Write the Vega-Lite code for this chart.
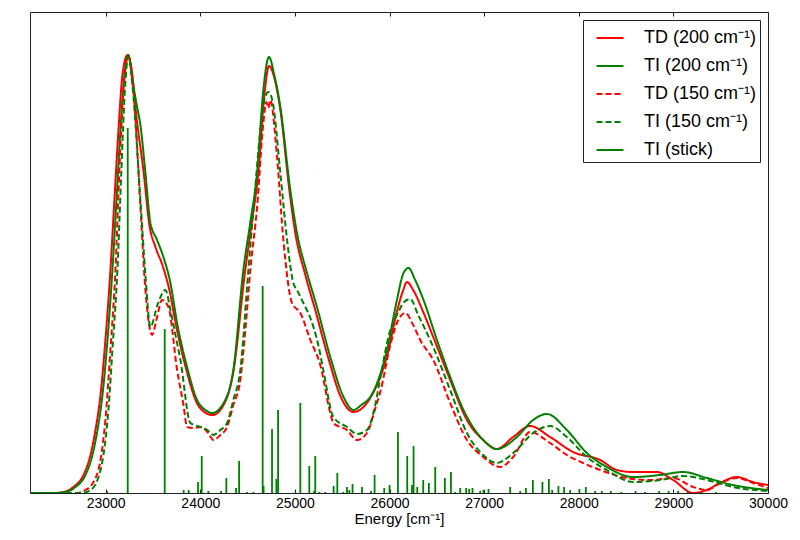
{
  "$schema": "https://vega.github.io/schema/vega-lite/v6.json",
  "width": 738,
  "height": 481,
  "autosize": {"type": "none"},
  "padding": {"left": 30, "top": 12, "right": 32, "bottom": 47},
  "background": "white",
  "config": {
    "view": {"stroke": "#222", "strokeWidth": 1},
    "font": "Liberation Sans",
    "axis": {"grid": false, "labelFont": "Liberation Sans", "titleFont": "Liberation Sans", "labelColor": "black", "titleColor": "black", "titleFontWeight": "normal"},
    "legend": {
      "orient": "top-right", "offset": 8, "strokeColor": "#222", "fillColor": "white",
      "padding": 3, "symbolOffset": 9, "symbolType": "stroke", "symbolSize": 730, "symbolStrokeWidth": 2,
      "labelFontSize": 18, "labelFont": "Liberation Sans", "labelColor": "black", "rowPadding": 4, "labelOffset": 19
    }
  },
  "datasets": {
    "curves": [
      {"series":"TD (200 cm⁻¹)","energy":22200,"eps":0},{"series":"TD (200 cm⁻¹)","energy":22448,"eps":0},{"series":"TD (200 cm⁻¹)","energy":22554,"eps":1},{"series":"TD (200 cm⁻¹)","energy":22659,"eps":6},{"series":"TD (200 cm⁻¹)","energy":22765,"eps":18},{"series":"TD (200 cm⁻¹)","energy":22839,"eps":38},{"series":"TD (200 cm⁻¹)","energy":22892,"eps":63},{"series":"TD (200 cm⁻¹)","energy":22945,"eps":98},{"series":"TD (200 cm⁻¹)","energy":22997,"eps":153},{"series":"TD (200 cm⁻¹)","energy":23050,"eps":223},{"series":"TD (200 cm⁻¹)","energy":23092,"eps":293},{"series":"TD (200 cm⁻¹)","energy":23135,"eps":363},{"series":"TD (200 cm⁻¹)","energy":23177,"eps":418},{"series":"TD (200 cm⁻¹)","energy":23230,"eps":438},{"series":"TD (200 cm⁻¹)","energy":23282,"eps":418},{"series":"TD (200 cm⁻¹)","energy":23314,"eps":386},{"series":"TD (200 cm⁻¹)","energy":23402,"eps":320},{"series":"TD (200 cm⁻¹)","energy":23462,"eps":268},{"series":"TD (200 cm⁻¹)","energy":23526,"eps":246},{"series":"TD (200 cm⁻¹)","energy":23599,"eps":228},{"series":"TD (200 cm⁻¹)","energy":23673,"eps":203},{"series":"TD (200 cm⁻¹)","energy":23747,"eps":166},{"series":"TD (200 cm⁻¹)","energy":23853,"eps":123},{"series":"TD (200 cm⁻¹)","energy":23959,"eps":91},{"series":"TD (200 cm⁻¹)","energy":24043,"eps":81},{"series":"TD (200 cm⁻¹)","energy":24128,"eps":78},{"series":"TD (200 cm⁻¹)","energy":24233,"eps":86},{"series":"TD (200 cm⁻¹)","energy":24349,"eps":121},{"series":"TD (200 cm⁻¹)","energy":24471,"eps":220},{"series":"TD (200 cm⁻¹)","energy":24545,"eps":271},{"series":"TD (200 cm⁻¹)","energy":24613,"eps":320},{"series":"TD (200 cm⁻¹)","energy":24677,"eps":398},{"series":"TD (200 cm⁻¹)","energy":24726,"eps":427},{"series":"TD (200 cm⁻¹)","energy":24793,"eps":411},{"series":"TD (200 cm⁻¹)","energy":24846,"eps":383},{"series":"TD (200 cm⁻¹)","energy":24941,"eps":303},{"series":"TD (200 cm⁻¹)","energy":25004,"eps":260},{"series":"TD (200 cm⁻¹)","energy":25110,"eps":218},{"series":"TD (200 cm⁻¹)","energy":25215,"eps":183},{"series":"TD (200 cm⁻¹)","energy":25353,"eps":135},{"series":"TD (200 cm⁻¹)","energy":25490,"eps":95},{"series":"TD (200 cm⁻¹)","energy":25617,"eps":81},{"series":"TD (200 cm⁻¹)","energy":25796,"eps":95},{"series":"TD (200 cm⁻¹)","energy":25976,"eps":138},{"series":"TD (200 cm⁻¹)","energy":26082,"eps":183},{"series":"TD (200 cm⁻¹)","energy":26145,"eps":203},{"series":"TD (200 cm⁻¹)","energy":26184,"eps":211},{"series":"TD (200 cm⁻¹)","energy":26250,"eps":203},{"series":"TD (200 cm⁻¹)","energy":26356,"eps":181},{"series":"TD (200 cm⁻¹)","energy":26462,"eps":156},{"series":"TD (200 cm⁻¹)","energy":26641,"eps":113},{"series":"TD (200 cm⁻¹)","energy":26818,"eps":73},{"series":"TD (200 cm⁻¹)","energy":26990,"eps":53},{"series":"TD (200 cm⁻¹)","energy":27134,"eps":44},{"series":"TD (200 cm⁻¹)","energy":27307,"eps":56},{"series":"TD (200 cm⁻¹)","energy":27486,"eps":67},{"series":"TD (200 cm⁻¹)","energy":27697,"eps":56},{"series":"TD (200 cm⁻¹)","energy":27940,"eps":41},{"series":"TD (200 cm⁻¹)","energy":28226,"eps":33},{"series":"TD (200 cm⁻¹)","energy":28402,"eps":23},{"series":"TD (200 cm⁻¹)","energy":28574,"eps":21},{"series":"TD (200 cm⁻¹)","energy":28824,"eps":21},{"series":"TD (200 cm⁻¹)","energy":28997,"eps":13},{"series":"TD (200 cm⁻¹)","energy":29208,"eps":0},{"series":"TD (200 cm⁻¹)","energy":29353,"eps":3},{"series":"TD (200 cm⁻¹)","energy":29494,"eps":10},{"series":"TD (200 cm⁻¹)","energy":29669,"eps":16},{"series":"TD (200 cm⁻¹)","energy":29842,"eps":11},{"series":"TD (200 cm⁻¹)","energy":30000,"eps":8},

      {"series":"TI (200 cm⁻¹)","energy":22200,"eps":0},{"series":"TI (200 cm⁻¹)","energy":22469,"eps":0},{"series":"TI (200 cm⁻¹)","energy":22575,"eps":1},{"series":"TI (200 cm⁻¹)","energy":22681,"eps":6},{"series":"TI (200 cm⁻¹)","energy":22786,"eps":18},{"series":"TI (200 cm⁻¹)","energy":22860,"eps":38},{"series":"TI (200 cm⁻¹)","energy":22913,"eps":63},{"series":"TI (200 cm⁻¹)","energy":22966,"eps":98},{"series":"TI (200 cm⁻¹)","energy":23019,"eps":153},{"series":"TI (200 cm⁻¹)","energy":23071,"eps":223},{"series":"TI (200 cm⁻¹)","energy":23114,"eps":293},{"series":"TI (200 cm⁻¹)","energy":23156,"eps":363},{"series":"TI (200 cm⁻¹)","energy":23198,"eps":418},{"series":"TI (200 cm⁻¹)","energy":23240,"eps":438},{"series":"TI (200 cm⁻¹)","energy":23282,"eps":413},{"series":"TI (200 cm⁻¹)","energy":23332,"eps":386},{"series":"TI (200 cm⁻¹)","energy":23367,"eps":368},{"series":"TI (200 cm⁻¹)","energy":23420,"eps":320},{"series":"TI (200 cm⁻¹)","energy":23473,"eps":270},{"series":"TI (200 cm⁻¹)","energy":23543,"eps":253},{"series":"TI (200 cm⁻¹)","energy":23610,"eps":236},{"series":"TI (200 cm⁻¹)","energy":23684,"eps":210},{"series":"TI (200 cm⁻¹)","energy":23755,"eps":170},{"series":"TI (200 cm⁻¹)","energy":23860,"eps":126},{"series":"TI (200 cm⁻¹)","energy":23966,"eps":93},{"series":"TI (200 cm⁻¹)","energy":24054,"eps":83},{"series":"TI (200 cm⁻¹)","energy":24128,"eps":80},{"series":"TI (200 cm⁻¹)","energy":24233,"eps":88},{"series":"TI (200 cm⁻¹)","energy":24349,"eps":123},{"series":"TI (200 cm⁻¹)","energy":24455,"eps":223},{"series":"TI (200 cm⁻¹)","energy":24529,"eps":271},{"series":"TI (200 cm⁻¹)","energy":24600,"eps":320},{"series":"TI (200 cm⁻¹)","energy":24666,"eps":403},{"series":"TI (200 cm⁻¹)","energy":24726,"eps":436},{"series":"TI (200 cm⁻¹)","energy":24782,"eps":418},{"series":"TI (200 cm⁻¹)","energy":24846,"eps":386},{"series":"TI (200 cm⁻¹)","energy":24951,"eps":303},{"series":"TI (200 cm⁻¹)","energy":25022,"eps":260},{"series":"TI (200 cm⁻¹)","energy":25128,"eps":220},{"series":"TI (200 cm⁻¹)","energy":25233,"eps":186},{"series":"TI (200 cm⁻¹)","energy":25374,"eps":136},{"series":"TI (200 cm⁻¹)","energy":25514,"eps":96},{"series":"TI (200 cm⁻¹)","energy":25620,"eps":83},{"series":"TI (200 cm⁻¹)","energy":25701,"eps":88},{"series":"TI (200 cm⁻¹)","energy":25796,"eps":96},{"series":"TI (200 cm⁻¹)","energy":25973,"eps":143},{"series":"TI (200 cm⁻¹)","energy":26078,"eps":193},{"series":"TI (200 cm⁻¹)","energy":26148,"eps":220},{"series":"TI (200 cm⁻¹)","energy":26201,"eps":225},{"series":"TI (200 cm⁻¹)","energy":26271,"eps":213},{"series":"TI (200 cm⁻¹)","energy":26359,"eps":193},{"series":"TI (200 cm⁻¹)","energy":26501,"eps":153},{"series":"TI (200 cm⁻¹)","energy":26641,"eps":116},{"series":"TI (200 cm⁻¹)","energy":26782,"eps":83},{"series":"TI (200 cm⁻¹)","energy":26990,"eps":53},{"series":"TI (200 cm⁻¹)","energy":27134,"eps":44},{"series":"TI (200 cm⁻¹)","energy":27346,"eps":56},{"series":"TI (200 cm⁻¹)","energy":27518,"eps":73},{"series":"TI (200 cm⁻¹)","energy":27663,"eps":79},{"series":"TI (200 cm⁻¹)","energy":27874,"eps":63},{"series":"TI (200 cm⁻¹)","energy":28085,"eps":40},{"series":"TI (200 cm⁻¹)","energy":28296,"eps":26},{"series":"TI (200 cm⁻¹)","energy":28574,"eps":16},{"series":"TI (200 cm⁻¹)","energy":28859,"eps":18},{"series":"TI (200 cm⁻¹)","energy":29102,"eps":21},{"series":"TI (200 cm⁻¹)","energy":29353,"eps":15},{"series":"TI (200 cm⁻¹)","energy":29630,"eps":8},{"series":"TI (200 cm⁻¹)","energy":30000,"eps":3},

      {"series":"TD (150 cm⁻¹)","energy":22200,"eps":0},{"series":"TD (150 cm⁻¹)","energy":22681,"eps":0},{"series":"TD (150 cm⁻¹)","energy":22786,"eps":3},{"series":"TD (150 cm⁻¹)","energy":22871,"eps":11},{"series":"TD (150 cm⁻¹)","energy":22945,"eps":33},{"series":"TD (150 cm⁻¹)","energy":22997,"eps":73},{"series":"TD (150 cm⁻¹)","energy":23050,"eps":143},{"series":"TD (150 cm⁻¹)","energy":23103,"eps":223},{"series":"TD (150 cm⁻¹)","energy":23145,"eps":323},{"series":"TD (150 cm⁻¹)","energy":23187,"eps":403},{"series":"TD (150 cm⁻¹)","energy":23240,"eps":437},{"series":"TD (150 cm⁻¹)","energy":23293,"eps":403},{"series":"TD (150 cm⁻¹)","energy":23367,"eps":286},{"series":"TD (150 cm⁻¹)","energy":23420,"eps":203},{"series":"TD (150 cm⁻¹)","energy":23491,"eps":158},{"series":"TD (150 cm⁻¹)","energy":23536,"eps":173},{"series":"TD (150 cm⁻¹)","energy":23596,"eps":193},{"series":"TD (150 cm⁻¹)","energy":23663,"eps":186},{"series":"TD (150 cm⁻¹)","energy":23755,"eps":123},{"series":"TD (150 cm⁻¹)","energy":23822,"eps":88},{"series":"TD (150 cm⁻¹)","energy":23860,"eps":66},{"series":"TD (150 cm⁻¹)","energy":23927,"eps":65},{"series":"TD (150 cm⁻¹)","energy":24001,"eps":66},{"series":"TD (150 cm⁻¹)","energy":24075,"eps":61},{"series":"TD (150 cm⁻¹)","energy":24138,"eps":53},{"series":"TD (150 cm⁻¹)","energy":24212,"eps":58},{"series":"TD (150 cm⁻¹)","energy":24283,"eps":66},{"series":"TD (150 cm⁻¹)","energy":24349,"eps":88},{"series":"TD (150 cm⁻¹)","energy":24423,"eps":113},{"series":"TD (150 cm⁻¹)","energy":24476,"eps":163},{"series":"TD (150 cm⁻¹)","energy":24529,"eps":223},{"series":"TD (150 cm⁻¹)","energy":24600,"eps":286},{"series":"TD (150 cm⁻¹)","energy":24666,"eps":370},{"series":"TD (150 cm⁻¹)","energy":24698,"eps":391},{"series":"TD (150 cm⁻¹)","energy":24719,"eps":385},{"series":"TD (150 cm⁻¹)","energy":24740,"eps":393},{"series":"TD (150 cm⁻¹)","energy":24811,"eps":336},{"series":"TD (150 cm⁻¹)","energy":24878,"eps":253},{"series":"TD (150 cm⁻¹)","energy":24969,"eps":190},{"series":"TD (150 cm⁻¹)","energy":25057,"eps":180},{"series":"TD (150 cm⁻¹)","energy":25163,"eps":153},{"series":"TD (150 cm⁻¹)","energy":25268,"eps":128},{"series":"TD (150 cm⁻¹)","energy":25374,"eps":80},{"series":"TD (150 cm⁻¹)","energy":25406,"eps":70},{"series":"TD (150 cm⁻¹)","energy":25550,"eps":63},{"series":"TD (150 cm⁻¹)","energy":25656,"eps":53},{"series":"TD (150 cm⁻¹)","energy":25761,"eps":60},{"series":"TD (150 cm⁻¹)","energy":25860,"eps":88},{"series":"TD (150 cm⁻¹)","energy":25902,"eps":101},{"series":"TD (150 cm⁻¹)","energy":26008,"eps":148},{"series":"TD (150 cm⁻¹)","energy":26082,"eps":171},{"series":"TD (150 cm⁻¹)","energy":26166,"eps":180},{"series":"TD (150 cm⁻¹)","energy":26250,"eps":168},{"series":"TD (150 cm⁻¹)","energy":26324,"eps":153},{"series":"TD (150 cm⁻¹)","energy":26462,"eps":133},{"series":"TD (150 cm⁻¹)","energy":26641,"eps":90},{"series":"TD (150 cm⁻¹)","energy":26818,"eps":53},{"series":"TD (150 cm⁻¹)","energy":26990,"eps":36},{"series":"TD (150 cm⁻¹)","energy":27169,"eps":26},{"series":"TD (150 cm⁻¹)","energy":27307,"eps":36},{"series":"TD (150 cm⁻¹)","energy":27486,"eps":61},{"series":"TD (150 cm⁻¹)","energy":27697,"eps":50},{"series":"TD (150 cm⁻¹)","energy":27874,"eps":38},{"series":"TD (150 cm⁻¹)","energy":28046,"eps":30},{"series":"TD (150 cm⁻¹)","energy":28226,"eps":23},{"series":"TD (150 cm⁻¹)","energy":28507,"eps":15},{"series":"TD (150 cm⁻¹)","energy":28754,"eps":13},{"series":"TD (150 cm⁻¹)","energy":28997,"eps":15},{"series":"TD (150 cm⁻¹)","energy":29208,"eps":6},{"series":"TD (150 cm⁻¹)","energy":29353,"eps":3},{"series":"TD (150 cm⁻¹)","energy":29494,"eps":10},{"series":"TD (150 cm⁻¹)","energy":29669,"eps":15},{"series":"TD (150 cm⁻¹)","energy":29842,"eps":10},{"series":"TD (150 cm⁻¹)","energy":30000,"eps":5},

      {"series":"TI (150 cm⁻¹)","energy":22200,"eps":0},{"series":"TI (150 cm⁻¹)","energy":22733,"eps":0},{"series":"TI (150 cm⁻¹)","energy":22839,"eps":3},{"series":"TI (150 cm⁻¹)","energy":22913,"eps":13},{"series":"TI (150 cm⁻¹)","energy":22976,"eps":38},{"series":"TI (150 cm⁻¹)","energy":23029,"eps":83},{"series":"TI (150 cm⁻¹)","energy":23071,"eps":143},{"series":"TI (150 cm⁻¹)","energy":23124,"eps":223},{"series":"TI (150 cm⁻¹)","energy":23166,"eps":323},{"series":"TI (150 cm⁻¹)","energy":23203,"eps":403},{"series":"TI (150 cm⁻¹)","energy":23240,"eps":437},{"series":"TI (150 cm⁻¹)","energy":23282,"eps":408},{"series":"TI (150 cm⁻¹)","energy":23367,"eps":293},{"series":"TI (150 cm⁻¹)","energy":23420,"eps":218},{"series":"TI (150 cm⁻¹)","energy":23473,"eps":166},{"series":"TI (150 cm⁻¹)","energy":23547,"eps":188},{"series":"TI (150 cm⁻¹)","energy":23631,"eps":203},{"series":"TI (150 cm⁻¹)","energy":23684,"eps":183},{"series":"TI (150 cm⁻¹)","energy":23737,"eps":158},{"series":"TI (150 cm⁻¹)","energy":23790,"eps":133},{"series":"TI (150 cm⁻¹)","energy":23895,"eps":70},{"series":"TI (150 cm⁻¹)","energy":24001,"eps":66},{"series":"TI (150 cm⁻¹)","energy":24075,"eps":63},{"series":"TI (150 cm⁻¹)","energy":24138,"eps":58},{"series":"TI (150 cm⁻¹)","energy":24212,"eps":63},{"series":"TI (150 cm⁻¹)","energy":24283,"eps":70},{"series":"TI (150 cm⁻¹)","energy":24349,"eps":93},{"series":"TI (150 cm⁻¹)","energy":24423,"eps":123},{"series":"TI (150 cm⁻¹)","energy":24508,"eps":223},{"series":"TI (150 cm⁻¹)","energy":24564,"eps":286},{"series":"TI (150 cm⁻¹)","energy":24635,"eps":363},{"series":"TI (150 cm⁻¹)","energy":24677,"eps":393},{"series":"TI (150 cm⁻¹)","energy":24719,"eps":401},{"series":"TI (150 cm⁻¹)","energy":24761,"eps":393},{"series":"TI (150 cm⁻¹)","energy":24846,"eps":320},{"series":"TI (150 cm⁻¹)","energy":24917,"eps":253},{"series":"TI (150 cm⁻¹)","energy":24983,"eps":210},{"series":"TI (150 cm⁻¹)","energy":25022,"eps":203},{"series":"TI (150 cm⁻¹)","energy":25089,"eps":190},{"series":"TI (150 cm⁻¹)","energy":25163,"eps":175},{"series":"TI (150 cm⁻¹)","energy":25247,"eps":148},{"series":"TI (150 cm⁻¹)","energy":25300,"eps":123},{"series":"TI (150 cm⁻¹)","energy":25406,"eps":76},{"series":"TI (150 cm⁻¹)","energy":25550,"eps":66},{"series":"TI (150 cm⁻¹)","energy":25656,"eps":59},{"series":"TI (150 cm⁻¹)","energy":25761,"eps":63},{"series":"TI (150 cm⁻¹)","energy":25849,"eps":88},{"series":"TI (150 cm⁻¹)","energy":25902,"eps":115},{"series":"TI (150 cm⁻¹)","energy":26008,"eps":163},{"series":"TI (150 cm⁻¹)","energy":26078,"eps":178},{"series":"TI (150 cm⁻¹)","energy":26155,"eps":191},{"series":"TI (150 cm⁻¹)","energy":26219,"eps":194},{"series":"TI (150 cm⁻¹)","energy":26303,"eps":178},{"series":"TI (150 cm⁻¹)","energy":26462,"eps":146},{"series":"TI (150 cm⁻¹)","energy":26641,"eps":103},{"series":"TI (150 cm⁻¹)","energy":26818,"eps":60},{"series":"TI (150 cm⁻¹)","energy":26990,"eps":38},{"series":"TI (150 cm⁻¹)","energy":27134,"eps":30},{"series":"TI (150 cm⁻¹)","energy":27307,"eps":40},{"series":"TI (150 cm⁻¹)","energy":27518,"eps":60},{"series":"TI (150 cm⁻¹)","energy":27697,"eps":67},{"series":"TI (150 cm⁻¹)","energy":27874,"eps":56},{"series":"TI (150 cm⁻¹)","energy":28085,"eps":36},{"series":"TI (150 cm⁻¹)","energy":28296,"eps":23},{"series":"TI (150 cm⁻¹)","energy":28574,"eps":11},{"series":"TI (150 cm⁻¹)","energy":28859,"eps":13},{"series":"TI (150 cm⁻¹)","energy":29102,"eps":17},{"series":"TI (150 cm⁻¹)","energy":29353,"eps":13},{"series":"TI (150 cm⁻¹)","energy":29630,"eps":6},{"series":"TI (150 cm⁻¹)","energy":30000,"eps":2}
    ],
    "sticks": [
      {"series":"TI (stick)","energy":23015,"eps":2},{"series":"TI (stick)","energy":23233,"eps":365},{"series":"TI (stick)","energy":23624,"eps":164},{"series":"TI (stick)","energy":23824,"eps":3},{"series":"TI (stick)","energy":23877,"eps":3},{"series":"TI (stick)","energy":23976,"eps":11},{"series":"TI (stick)","energy":24015,"eps":37},{"series":"TI (stick)","energy":24085,"eps":2},{"series":"TI (stick)","energy":24219,"eps":2},{"series":"TI (stick)","energy":24275,"eps":15},{"series":"TI (stick)","energy":24378,"eps":5},{"series":"TI (stick)","energy":24410,"eps":32},{"series":"TI (stick)","energy":24494,"eps":1},{"series":"TI (stick)","energy":24561,"eps":1},{"series":"TI (stick)","energy":24659,"eps":207},{"series":"TI (stick)","energy":24669,"eps":7},{"series":"TI (stick)","energy":24758,"eps":64},{"series":"TI (stick)","energy":24804,"eps":14},{"series":"TI (stick)","energy":24822,"eps":83},{"series":"TI (stick)","energy":25004,"eps":1},{"series":"TI (stick)","energy":25057,"eps":90},{"series":"TI (stick)","energy":25152,"eps":27},{"series":"TI (stick)","energy":25202,"eps":2},{"series":"TI (stick)","energy":25215,"eps":37},{"series":"TI (stick)","energy":25258,"eps":1},{"series":"TI (stick)","energy":25321,"eps":1},{"series":"TI (stick)","energy":25409,"eps":7},{"series":"TI (stick)","energy":25448,"eps":20},{"series":"TI (stick)","energy":25511,"eps":1},{"series":"TI (stick)","energy":25550,"eps":6},{"series":"TI (stick)","energy":25575,"eps":3},{"series":"TI (stick)","energy":25609,"eps":9},{"series":"TI (stick)","energy":25709,"eps":6},{"series":"TI (stick)","energy":25804,"eps":2},{"series":"TI (stick)","energy":25842,"eps":18},{"series":"TI (stick)","energy":25944,"eps":5},{"series":"TI (stick)","energy":26000,"eps":8},{"series":"TI (stick)","energy":26089,"eps":61},{"series":"TI (stick)","energy":26187,"eps":37},{"series":"TI (stick)","energy":26237,"eps":8},{"series":"TI (stick)","energy":26254,"eps":47},{"series":"TI (stick)","energy":26293,"eps":6},{"series":"TI (stick)","energy":26356,"eps":13},{"series":"TI (stick)","energy":26416,"eps":10},{"series":"TI (stick)","energy":26483,"eps":26},{"series":"TI (stick)","energy":26585,"eps":15},{"series":"TI (stick)","energy":26649,"eps":21},{"series":"TI (stick)","energy":26694,"eps":1},{"series":"TI (stick)","energy":26747,"eps":5},{"series":"TI (stick)","energy":26810,"eps":5},{"series":"TI (stick)","energy":26842,"eps":4},{"series":"TI (stick)","energy":26877,"eps":5},{"series":"TI (stick)","energy":26958,"eps":2},{"series":"TI (stick)","energy":26993,"eps":3},{"series":"TI (stick)","energy":27046,"eps":4},{"series":"TI (stick)","energy":27275,"eps":6},{"series":"TI (stick)","energy":27381,"eps":2},{"series":"TI (stick)","energy":27441,"eps":5},{"series":"TI (stick)","energy":27515,"eps":13},{"series":"TI (stick)","energy":27616,"eps":11},{"series":"TI (stick)","energy":27684,"eps":14},{"series":"TI (stick)","energy":27719,"eps":3},{"series":"TI (stick)","energy":27785,"eps":7},{"series":"TI (stick)","energy":27845,"eps":6},{"series":"TI (stick)","energy":27909,"eps":3},{"series":"TI (stick)","energy":28007,"eps":4},{"series":"TI (stick)","energy":28075,"eps":6},{"series":"TI (stick)","energy":28173,"eps":2},{"series":"TI (stick)","energy":28244,"eps":2},{"series":"TI (stick)","energy":28339,"eps":2},{"series":"TI (stick)","energy":28450,"eps":1},{"series":"TI (stick)","energy":28600,"eps":2},{"series":"TI (stick)","energy":28700,"eps":1},{"series":"TI (stick)","energy":28850,"eps":2},{"series":"TI (stick)","energy":28950,"eps":2},{"series":"TI (stick)","energy":29050,"eps":2},{"series":"TI (stick)","energy":29150,"eps":1},{"series":"TI (stick)","energy":29300,"eps":1},{"series":"TI (stick)","energy":29450,"eps":1}
    ]
  },
  "layer": [
    {
      "data": {"name": "curves"},
      "mark": {"type": "line", "interpolate": "monotone", "strokeWidth": 2, "clip": true},
      "encoding": {
        "x": {"field": "energy", "type": "quantitative",
              "scale": {"domain": [22200, 30000], "nice": false, "zero": false},
              "axis": {"orient": "bottom", "values": [23000, 24000, 25000, 26000, 27000, 28000, 29000, 30000], "format": "d",
                       "domain": false, "tickSize": -4, "tickColor": "#222", "labelFontSize": 14, "labelPadding": 7,
                       "labelFlush": false, "labelOverlap": false, "labelBound": false,
                       "title": "Energy [cm⁻¹]", "titleFontSize": 15, "titlePadding": 1}},
        "y": {"field": "eps", "type": "quantitative",
              "scale": {"domain": [0, 481], "nice": false, "zero": true},
              "axis": {"ticks": false, "labels": false, "domain": false, "title": "ϵ [arbitrary units]", "titleFontSize": 15, "titlePadding": -3}},
        "color": {"field": "series", "type": "nominal",
                  "scale": {"domain": ["TD (200 cm⁻¹)", "TI (200 cm⁻¹)", "TD (150 cm⁻¹)", "TI (150 cm⁻¹)", "TI (stick)"],
                            "range": ["#ff0000", "#008000", "#ff0000", "#008000", "#008000"]},
                  "legend": {"title": null}},
        "strokeDash": {"field": "series", "type": "nominal",
                  "scale": {"domain": ["TD (200 cm⁻¹)", "TI (200 cm⁻¹)", "TD (150 cm⁻¹)", "TI (150 cm⁻¹)", "TI (stick)"],
                            "range": [[1, 0], [1, 0], [6, 3], [6, 3], [1, 0]]},
                  "legend": {"title": null}},
        "order": {"field": "energy", "type": "quantitative"}
      }
    },
    {
      "data": {"name": "sticks"},
      "mark": {"type": "rule", "strokeWidth": 1.8},
      "encoding": {
        "x": {"field": "energy", "type": "quantitative",
              "scale": {"domain": [22200, 30000], "nice": false, "zero": false},
              "axis": {"orient": "top", "values": [23000, 24000, 25000, 26000, 27000, 28000, 29000, 30000],
                       "domain": false, "labels": false, "tickSize": -4, "tickColor": "#222", "title": null}},
        "y": {"field": "eps", "type": "quantitative", "scale": {"domain": [0, 481], "nice": false, "zero": true}, "axis": null},
        "y2": {"datum": 0},
        "color": {"field": "series", "type": "nominal", "legend": {"title": null}},
        "strokeDash": {"field": "series", "type": "nominal", "legend": {"title": null}}
      }
    }
  ],
  "resolve": {"axis": {"x": "independent"}}
}
